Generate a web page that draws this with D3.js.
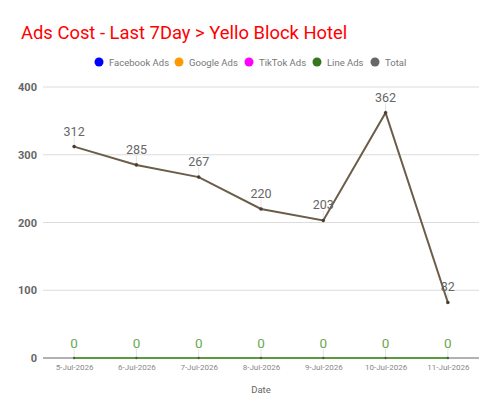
<!DOCTYPE html>
<html>
<head>
<meta charset="utf-8">
<script src="https://cdn.jsdelivr.net/npm/d3@7"></script>
<style>
  body { margin: 0; background: #fff; font-family: Roboto, "Noto Sans", sans-serif; }
</style>
</head>
<body>
<script>
// chart data
var dates = ["5-Jul-2026", "6-Jul-2026", "7-Jul-2026", "8-Jul-2026", "9-Jul-2026", "10-Jul-2026", "11-Jul-2026"];
var facebookAds = [0, 0, 0, 0, 0, 0, 0];
var googleAds = [0, 0, 0, 0, 0, 0, 0];
var tiktokAds = [0, 0, 0, 0, 0, 0, 0];
var lineAds = [0, 0, 0, 0, 0, 0, 0];
var total = [312, 285, 267, 220, 203, 362, 82];
var yTicks = [0, 100, 200, 300, 400];

var seriesNames = ["Facebook Ads", "Google Ads", "TikTok Ads", "Line Ads", "Total"];
var seriesColors = ["#0000ff", "#ff9900", "#ff00ff", "#38761d", "#666666"];

var svgwidth = 500;
var svgheight = 415;

var margin = { top: 87, right: 21, bottom: 57, left: 43 };
var width = svgwidth - margin.left - margin.right;
var height = svgheight - margin.top - margin.bottom;

var svg = d3.select("body")
    .append("svg")
    .attr("width", svgwidth)
    .attr("height", svgheight);

// title
svg.append("text")
    .attr("x", 21)
    .attr("y", 39)
    .attr("fill", "#ff0000")
    .attr("font-size", "18.4px")
    .text("Ads Cost - Last 7Day > Yello Block Hotel");

// legend
var legendX = [99, 179, 249, 317, 375];
var legend = svg.selectAll(".legend")
    .data(seriesNames)
    .enter()
    .append("g")
    .attr("transform", (d, i) => `translate(${legendX[i]}, 62)`);
legend.append("circle")
    .attr("r", 4.5)
    .attr("fill", (d, i) => seriesColors[i]);
legend.append("text")
    .attr("x", 10)
    .attr("y", 3.5)
    .attr("font-size", "9.5px")
    .attr("fill", "#777")
    .text(d => d);

var chartGroup = svg.append("g")
    .attr("transform", `translate(${margin.left}, ${margin.top})`);

var xScale = d3.scalePoint()
    .domain(dates)
    .range([0, width])
    .padding(0.5);

var yScale = d3.scaleLinear()
    .domain([0, 400])
    .range([height, 0]);

// gridlines
chartGroup.selectAll(".grid")
    .data(yTicks.filter(d => d > 0))
    .enter()
    .append("line")
    .attr("x1", 0)
    .attr("x2", width)
    .attr("y1", d => yScale(d))
    .attr("y2", d => yScale(d))
    .attr("stroke", "#dcdcdc")
    .attr("stroke-width", 1);

// y axis labels
var leftAxis = d3.axisLeft(yScale).tickValues(yTicks).tickSize(0).tickPadding(6);
var yAxisG = chartGroup.append("g").call(leftAxis);
yAxisG.select(".domain").remove();
yAxisG.selectAll("text")
    .attr("font-size", "11px")
    .attr("font-family", "Roboto, sans-serif")
    .attr("font-weight", "bold")
    .attr("fill", "#666");

// baseline
chartGroup.append("line")
    .attr("x1", 0)
    .attr("x2", width)
    .attr("y1", height)
    .attr("y2", height)
    .attr("stroke", "#999")
    .attr("stroke-width", 1.5);

// x axis labels
var bottomAxis = d3.axisBottom(xScale).tickSize(0).tickPadding(6);
var xAxisG = chartGroup.append("g")
    .attr("transform", `translate(0, ${height})`)
    .call(bottomAxis);
xAxisG.select(".domain").remove();
xAxisG.selectAll("text")
    .attr("font-size", "8px")
    .attr("font-family", "Roboto, sans-serif")
    .attr("fill", "#888");

// axis title
chartGroup.append("text")
    .attr("x", width / 2)
    .attr("y", height + 35)
    .attr("text-anchor", "middle")
    .attr("font-size", "9.5px")
    .attr("fill", "#666")
    .text("Date");

var line = d3.line()
    .x((d, i) => xScale(dates[i]))
    .y(d => yScale(d));

// zero series lines
var zeroSeries = [facebookAds, googleAds, tiktokAds, lineAds];
var zeroColors = ["#0000ff", "#ff9900", "#ff00ff", "#5a9a3c"];
zeroSeries.forEach(function(s, k) {
    chartGroup.append("path")
        .datum(s)
        .attr("d", line)
        .attr("fill", "none")
        .attr("stroke", zeroColors[k])
        .attr("stroke-width", 2);
});

// leader lines for labels
chartGroup.selectAll(".lead0")
    .data(lineAds)
    .enter()
    .append("line")
    .attr("x1", (d, i) => xScale(dates[i]))
    .attr("x2", (d, i) => xScale(dates[i]))
    .attr("y1", d => yScale(d) - 9)
    .attr("y2", d => yScale(d) - 1)
    .attr("stroke", "#e6e6e6");

chartGroup.selectAll(".leadT")
    .data(total)
    .enter()
    .append("line")
    .attr("x1", (d, i) => xScale(dates[i]))
    .attr("x2", (d, i) => xScale(dates[i]))
    .attr("y1", d => yScale(d) - 10)
    .attr("y2", d => yScale(d))
    .attr("stroke", "#e6e6e6");

// total line
chartGroup.append("path")
    .datum(total)
    .attr("d", line)
    .attr("fill", "none")
    .attr("stroke", "#6b5d48")
    .attr("stroke-width", 2);

chartGroup.selectAll(".dotT")
    .data(total)
    .enter()
    .append("circle")
    .attr("cx", (d, i) => xScale(dates[i]))
    .attr("cy", d => yScale(d))
    .attr("r", 1.8)
    .attr("fill", "#4a3f30");

chartGroup.selectAll(".dot0")
    .data(lineAds)
    .enter()
    .append("circle")
    .attr("cx", (d, i) => xScale(dates[i]))
    .attr("cy", d => yScale(d))
    .attr("r", 1.2)
    .attr("fill", "#555");

// value labels
chartGroup.selectAll(".labT")
    .data(total)
    .enter()
    .append("text")
    .attr("x", (d, i) => xScale(dates[i]))
    .attr("y", d => yScale(d) - 11)
    .attr("text-anchor", "middle")
    .attr("font-size", "12.5px")
    .attr("fill", "#666")
    .text(d => d);

chartGroup.selectAll(".lab0")
    .data(lineAds)
    .enter()
    .append("text")
    .attr("x", (d, i) => xScale(dates[i]))
    .attr("y", d => yScale(d) - 10)
    .attr("text-anchor", "middle")
    .attr("font-size", "13.5px")
    .attr("fill", "#6aa84f")
    .text(d => d);
</script>
</body>
</html>
